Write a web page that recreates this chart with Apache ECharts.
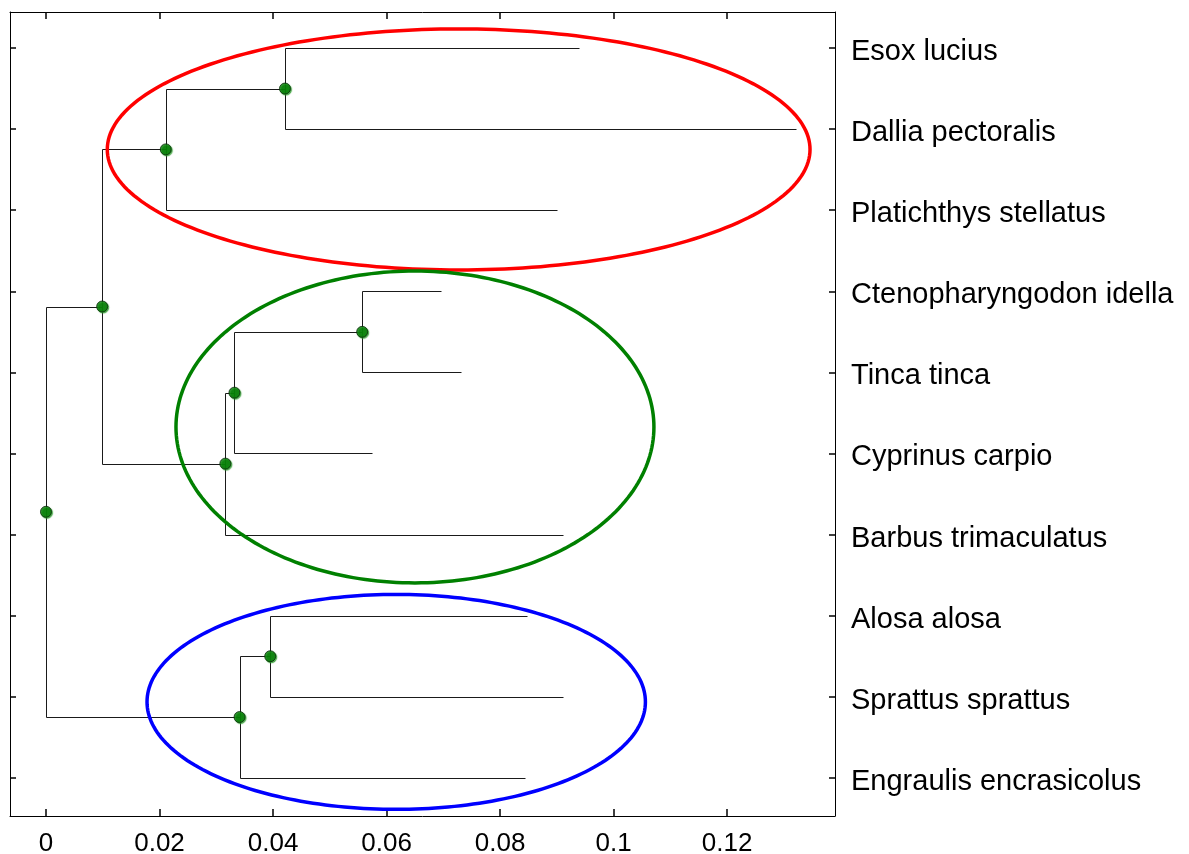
<!DOCTYPE html>
<html>
<head>
<meta charset="utf-8">
<style>
  html, body { margin: 0; padding: 0; background: #ffffff; }
  #chart { width: 1189px; height: 854px; }
</style>
<script src="https://cdn.jsdelivr.net/npm/echarts@6/dist/echarts.min.js"></script>
</head>
<body>
<div id="chart"></div>
<script>
// ---------- data ----------
const leafNames = [
  'Esox lucius', 'Dallia pectoralis', 'Platichthys stellatus',
  'Ctenopharyngodon idella', 'Tinca tinca', 'Cyprinus carpio',
  'Barbus trimaculatus', 'Alosa alosa', 'Sprattus sprattus',
  'Engraulis encrasicolus'
];
// branch-tip positions of the leaves (x axis)
const leafHeights = [0.0939, 0.1322, 0.0900, 0.0696, 0.0731, 0.0574, 0.0911, 0.0848, 0.0911, 0.0844];
// internal nodes: position on x axis and their two children (L = leaf, N = node)
const nodeHeights = [0.0421, 0.0211, 0.0557, 0.0332, 0.0316, 0.0099, 0.0395, 0.0341, 0.0];
const nodeChildren = [
  ['L0', 'L1'], ['N0', 'L2'], ['L3', 'L4'], ['N2', 'L5'], ['N3', 'L6'],
  ['N1', 'N4'], ['L7', 'L8'], ['N6', 'L9'], ['N5', 'N7']
];
// x-axis ticks
const tickValues = [0, 0.02, 0.04, 0.06, 0.08, 0.1, 0.12];
const tickLabels = ['0', '0.02', '0.04', '0.06', '0.08', '0.1', '0.12'];
const leafTickValues = [0, 1, 2, 3, 4, 5, 6, 7, 8, 9];
// axis extents
const xMin = -0.00634, xMax = 0.1390;
const yMin = -0.444, yMax = 9.47;
// cluster ellipses (data units)
const ellipseColors = ['#ff0000', '#008000', '#0000ff'];
const ellipseCx = [0.0727, 0.0650, 0.0617];
const ellipseCy = [1.251, 4.673, 8.063];
const ellipseRx = [0.0619, 0.0421, 0.0439];
const ellipseRy = [1.486, 1.923, 1.325];

// ---------- tree geometry ----------
function pos(ref) {
  const idx = parseInt(ref.slice(1), 10);
  if (ref[0] === 'L') return [leafHeights[idx], idx];
  return nodePos[idx];
}
const nodePos = [];
nodeChildren.forEach(function (ch, i) {
  const a = pos(ch[0]), b = pos(ch[1]);
  nodePos[i] = [nodeHeights[i], (a[1] + b[1]) / 2];
});
const segments = [];
nodeChildren.forEach(function (ch, i) {
  const h = nodePos[i][0];
  const a = pos(ch[0]), b = pos(ch[1]);
  segments.push([h, a[1], h, b[1]]);
  segments.push([h, a[1], a[0], a[1]]);
  segments.push([h, b[1], b[0], b[1]]);
});
const ellipseData = ellipseCx.map(function (cx, i) {
  return [cx, ellipseCy[i], ellipseRx[i], ellipseRy[i], i];
});

const FONT = '"Liberation Sans", Arial, sans-serif';

function xAxisCfg(position, showLabel) {
  return {
    type: 'value', position: position, min: xMin, max: xMax,
    axisLine: { show: true, onZero: false, lineStyle: { color: '#000', width: 1 } },
    axisTick: { show: true, inside: true, length: 7, customValues: tickValues, lineStyle: { color: '#000', width: 1.5 } },
    axisLabel: {
      show: showLabel, customValues: tickValues, margin: 15,
      fontSize: 26, fontFamily: FONT, color: '#000',
      formatter: function (v) {
        let best = 0;
        tickValues.forEach(function (t, i) { if (Math.abs(t - v) < Math.abs(tickValues[best] - v)) best = i; });
        return tickLabels[best];
      }
    },
    splitLine: { show: false }
  };
}
function yAxisCfg(position, showLabel) {
  return {
    type: 'value', position: position, inverse: true, min: yMin, max: yMax,
    axisLine: { show: true, onZero: false, lineStyle: { color: '#000', width: 1 } },
    axisTick: { show: true, inside: true, length: 6, customValues: leafTickValues, lineStyle: { color: '#000', width: 1.5 } },
    axisLabel: {
      show: showLabel, customValues: leafTickValues, margin: 16,
      fontSize: 29, fontFamily: FONT, color: '#000',
      formatter: function (v) { return '{n|' + leafNames[Math.round(v)] + '}'; },
      rich: { n: { fontSize: 29, fontFamily: FONT, color: '#000', padding: [8, 0, 0, 0] } }
    },
    splitLine: { show: false }
  };
}

const chart = echarts.init(document.getElementById('chart'), null, { renderer: 'canvas' });
chart.setOption({
  animation: false,
  backgroundColor: '#ffffff',
  grid: { left: 10, right: 354, top: 12, bottom: 38, containLabel: false, outerBoundsMode: 'none' },
  xAxis: [xAxisCfg('bottom', true), xAxisCfg('top', false)],
  yAxis: [yAxisCfg('left', false), yAxisCfg('right', true)],
  series: [
    {
      type: 'custom', name: 'branches', xAxisIndex: 0, yAxisIndex: 0,
      data: segments, encode: { x: [0, 2], y: [1, 3] }, z: 2, silent: true,
      renderItem: function (params, api) {
        const p1 = api.coord([api.value(0), api.value(1)]);
        const p2 = api.coord([api.value(2), api.value(3)]);
        return {
          type: 'line',
          shape: { x1: Math.round(p1[0]) + 0.5, y1: Math.round(p1[1]) + 0.5, x2: Math.round(p2[0]) + 0.5, y2: Math.round(p2[1]) + 0.5 },
          style: { stroke: '#1a1a1a', lineWidth: 1 }
        };
      }
    },
    {
      type: 'custom', name: 'clusters', xAxisIndex: 0, yAxisIndex: 0,
      data: ellipseData, encode: { x: 0, y: 1 }, z: 3, silent: true,
      renderItem: function (params, api) {
        const c = api.coord([api.value(0), api.value(1)]);
        const s = api.size([api.value(2), api.value(3)]);
        const pts = [];
        for (let k = 0; k < 240; k++) {
          const t = k / 240 * Math.PI * 2;
          pts.push([c[0] + s[0] * Math.cos(t), c[1] + s[1] * Math.sin(t)]);
        }
        return {
          type: 'polygon',
          shape: { points: pts },
          style: { fill: null, stroke: ellipseColors[api.value(4)], lineWidth: 3.5 }
        };
      }
    },
    {
      type: 'scatter', name: 'nodes', xAxisIndex: 0, yAxisIndex: 0,
      data: nodePos, symbol: 'circle', symbolSize: 11, z: 4, silent: true,
      itemStyle: {
        color: '#007a00', borderColor: '#0a2a0a', borderWidth: 1,
        shadowColor: '#2a9a2a', shadowOffsetX: 1, shadowOffsetY: 1, shadowBlur: 1
      }
    }
  ]
});
</script>
</body>
</html>
